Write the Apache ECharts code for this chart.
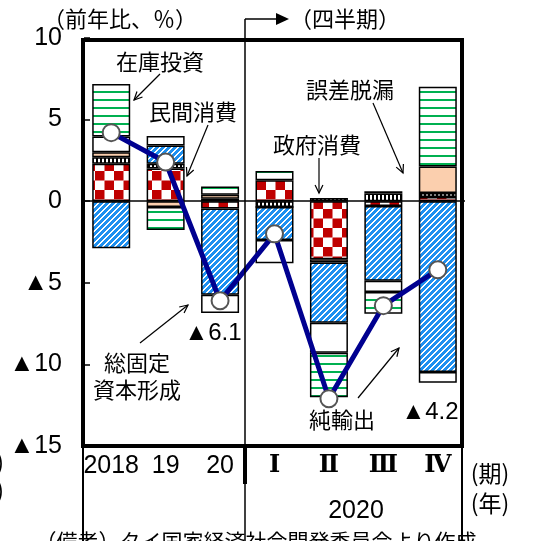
<!DOCTYPE html>
<html lang="ja">
<head>
<meta charset="utf-8" />
<title>タイ 実質GDP成長率の需要項目別寄与度</title>
<script src="https://cdn.jsdelivr.net/npm/echarts@6/dist/echarts.min.js"></script>
<style>
  html, body { margin: 0; padding: 0; background: #fff; }
  #main { width: 540px; height: 541px; }
</style>
</head>
<body>
<div id="main"></div>
<script>
// 年・四半期
var categories = ['2018', '19', '20', 'Ⅰ', 'Ⅱ', 'Ⅲ', 'Ⅳ'];
// 需要項目別寄与度（％ポイント）
var privCons   = [2.3, 2.0, -0.45, 1.28, -3.55, -0.3, 0.25];   // 民間消費
var govCons    = [0.4, 0.3, 0.15, -0.35, 0.2, 0.47, 0.25];     // 政府消費
var errors     = [0.3, -0.35, 0.25, 0, -0.2, 0.14, 1.63];      // 誤差脱漏
var netExports = [-2.88, 1.12, -5.28, -2.03, -3.7, -4.58, -10.47]; // 純輸出
var gfcf       = [0.96, 0.57, -1.12, -1.42, -1.83, -0.69, -0.65]; // 総固定資本形成
var inventory  = [3.22, -1.42, 0.5, 0.57, -2.74, -1.33, 4.88];  // 在庫投資
// 実質GDP成長率（前年比）
var gdp = [4.2, 2.4, -6.1, -2.0, -12.1, -6.4, -4.2];
var yTicks = [10, 5, 0, -5, -10, -15];

var NUM = '"Liberation Sans", sans-serif';
var JP = '"Noto Sans CJK JP", sans-serif';
var ROMAN = '"DejaVu Serif", "Noto Sans CJK JP", serif';

// 模様
function tile(w, h, draw) {
  var c = document.createElement('canvas');
  c.width = w; c.height = h;
  draw(c.getContext('2d'), w, h);
  return { image: c, repeat: 'repeat' };
}
var checker = tile(19, 19, function (ctx) {
  ctx.fillStyle = '#fff'; ctx.fillRect(0, 0, 19, 19);
  ctx.fillStyle = '#c00000';
  ctx.fillRect(0, 0, 9.5, 9.5); ctx.fillRect(9.5, 9.5, 9.5, 9.5);
});
var ticks = tile(4, 4, function (ctx) {
  ctx.fillStyle = '#000'; ctx.fillRect(0, 0, 4, 4);
  ctx.fillStyle = '#fff'; ctx.fillRect(2, 0, 2, 4);
});
var hatch = tile(6, 6, function (ctx, w, h) {
  var img = ctx.createImageData(w, h);
  for (var y = 0; y < h; y++) {
    for (var x = 0; x < w; x++) {
      var k = (y * w + x) * 4;
      var white = (x + y) % 6 < 2;
      img.data[k] = white ? 255 : 30;
      img.data[k + 1] = white ? 255 : 144;
      img.data[k + 2] = white ? 255 : 240;
      img.data[k + 3] = 255;
    }
  }
  ctx.putImageData(img, 0, 0);
});
var greenLines = tile(8, 8, function (ctx) {
  ctx.fillStyle = '#fff'; ctx.fillRect(0, 0, 8, 8);
  ctx.fillStyle = '#00b050'; ctx.fillRect(0, 3, 8, 2);
});

function barSeries(name, data, color) {
  return {
    name: name, type: 'bar', stack: 'total', barWidth: 38, data: data, z: 2,
    itemStyle: { color: color, borderColor: '#000', borderWidth: 1.5 },
    emphasis: { disabled: true }
  };
}

function arrow(x1, y1, x2, y2) {
  var a = Math.atan2(y2 - y1, x2 - x1), len = 9, sp = 0.45;
  return {
    type: 'group', silent: true, z: 100,
    children: [
      { type: 'line', shape: { x1: x1, y1: y1, x2: x2, y2: y2 }, style: { stroke: '#000', lineWidth: 1.2 } },
      { type: 'polyline', shape: { points: [
          [x2 - len * Math.cos(a - sp), y2 - len * Math.sin(a - sp)], [x2, y2],
          [x2 - len * Math.cos(a + sp), y2 - len * Math.sin(a + sp)]] },
        style: { stroke: '#000', fill: null, lineWidth: 1.2 } }
    ]
  };
}
function text(str, x, y, size, font, align) {
  return {
    type: 'text', x: x, y: y, silent: true, z: 100,
    style: { text: str, fontSize: size, fontFamily: font || JP, fill: '#000',
             align: align || 'center', verticalAlign: 'middle', lineHeight: 28 }
  };
}
function vline(x, y1, y2, w) {
  return { type: 'line', silent: true, z: 60, shape: { x1: x, y1: y1, x2: x, y2: y2 }, style: { stroke: '#000', lineWidth: w } };
}

var chart = echarts.init(document.getElementById('main'));
chart.setOption({
  animation: false,
  grid: { left: 84, right: 75, top: 38, bottom: 95 },
  xAxis: {
    type: 'category', data: categories,
    axisLine: { show: false }, axisTick: { show: false },
    axisLabel: {
      interval: 0, hideOverlap: false,
      color: '#000', fontSize: 25, fontFamily: NUM, margin: 20, verticalAlign: 'middle',
      formatter: function (v, i) { return i >= 3 ? '{r|' + v + '}' : v; },
      rich: { r: { fontFamily: ROMAN, fontSize: 24, fontWeight: 'bold', color: '#000' } }
    }
  },
  yAxis: {
    type: 'value', min: yTicks[yTicks.length - 1], max: yTicks[0], interval: 5,
    axisLine: { show: false }, splitLine: { show: false },
    axisTick: { show: true, inside: true, length: 6, lineStyle: { color: '#000', width: 1.5 } },
    axisLabel: {
      color: '#000', fontSize: 25, fontFamily: NUM, margin: 22,
      formatter: function (v) { return v < 0 ? '▲' + (-v) : String(v); }
    }
  },
  series: [
    barSeries('民間消費', privCons, checker),
    barSeries('政府消費', govCons, ticks),
    barSeries('誤差脱漏', errors, '#fbcfae'),
    barSeries('純輸出', netExports, hatch),
    barSeries('総固定資本形成', gfcf, '#fff'),
    barSeries('在庫投資', inventory, greenLines),
    {
      name: '実質GDP成長率', type: 'line', data: gdp, z: 5,
      lineStyle: { color: '#000090', width: 5 },
      symbol: 'circle', symbolSize: 17,
      itemStyle: { color: '#fff', borderColor: '#555', borderWidth: 2 },
      emphasis: { disabled: true },
      markLine: {
        silent: true, symbol: 'none', label: { show: false },
        lineStyle: { color: '#000', width: 1.5, type: 'solid' },
        data: [{ yAxis: 0 }]
      }
    }
  ],
  graphic: [
    // 枠
    { type: 'rect', silent: true, z: 50, shape: { x: 83, y: 40, width: 379, height: 406 },
      style: { fill: null, stroke: '#000', lineWidth: 4 } },
    vline(83, 446, 541, 2),
    vline(462, 446, 541, 2),
    vline(245, 19, 541, 1.5),
    vline(245, 446, 484, 4),
    { type: 'line', silent: true, z: 60, shape: { x1: 245, y1: 19, x2: 277, y2: 19 }, style: { stroke: '#000', lineWidth: 1.5 } },
    { type: 'polygon', silent: true, z: 60, shape: { points: [[276, 13], [289, 19], [276, 25]] }, style: { fill: '#000' } },
    // 見出し
    text('（前年比、％）', 120, 19, 22),
    text('（四半期）', 290, 19, 22, JP, 'left'),
    text('(期)', 490, 473, 23),
    text('(年)', 490, 503, 23),
    text('(期)\n(年)', 4, 476, 23, JP, 'right'),
    text('2020', 356, 511, 25, NUM),
    text('（備考）タイ国家経済社会開発委員会より作成', 256, 541, 21),
    // 注記
    text('在庫投資', 160, 62, 22),
    arrow(160, 74, 134, 100),
    text('民間消費', 193, 112, 22),
    arrow(208, 125, 187, 176),
    text('政府消費', 317, 145, 22),
    arrow(319, 158, 319, 193),
    text('誤差脱漏', 350, 90, 22),
    arrow(373, 103, 403, 173),
    text('総固定', 137, 363, 22),
    text('資本形成', 137, 390, 22),
    arrow(140, 343, 188, 305),
    text('純輸出', 342, 420, 22),
    arrow(358, 398, 399, 348),
    text('▲6.1', 213, 333, 24, NUM),
    text('▲4.2', 430, 412, 24, NUM)
  ]
});
</script>
</body>
</html>
